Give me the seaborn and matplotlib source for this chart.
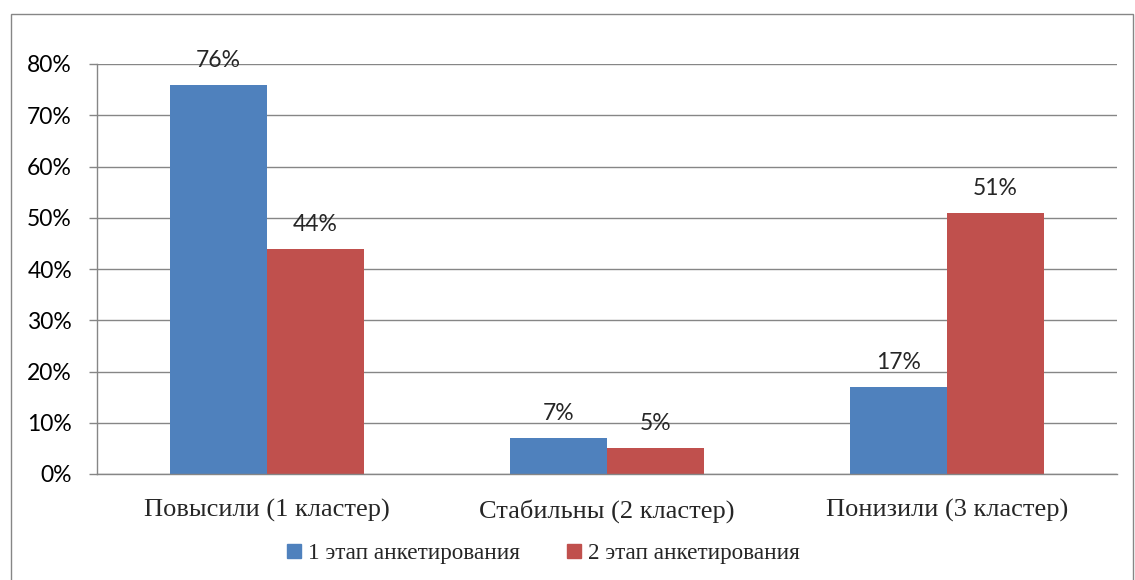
import matplotlib
matplotlib.use("Agg")
import matplotlib.pyplot as plt
import seaborn as sns
import pandas as pd
from matplotlib.patches import Rectangle
from matplotlib.lines import Line2D

categories = ["Повысили (1 кластер)", "Стабильны (2 кластер)", "Понизили (3 кластер)"]
series_names = ["1 этап анкетирования", "2 этап анкетирования"]
stage1 = [76, 7, 17]
stage2 = [44, 5, 51]
yticks = [0, 10, 20, 30, 40, 50, 60, 70, 80]

df = pd.DataFrame({
    "cat": categories * 2,
    "series": [series_names[0]] * 3 + [series_names[1]] * 3,
    "val": stage1 + stage2,
})

sns.set_theme(style="white")
plt.rcParams["font.family"] = ["Lato", "DejaVu Sans"]

fig = plt.figure(figsize=(11.35, 5.8), dpi=100)
ax = fig.add_axes([97/1135, 1-474/580, 1020/1135, 410/580])

colors = ["#4F81BD", "#C0504D"]
sns.barplot(data=df, x="cat", y="val", hue="series", order=categories,
            hue_order=series_names, palette=colors, width=0.57, ax=ax,
            saturation=1, legend=False, edgecolor="none", linewidth=0)

ax.set_xlim(-0.5, 2.5)
ax.set_ylim(0, 80)
ax.set_yticks(yticks)
ax.set_yticklabels([f"{v}%" for v in yticks], fontsize=16.5, color="#000000", family=["Lato", "DejaVu Sans"])
ax.yaxis.grid(True, color="#868686", linewidth=1)
ax.set_axisbelow(True)
ax.set_xlabel("")
ax.set_ylabel("")
ax.set_xticks([0, 1, 2])
ax.set_xticklabels(categories, fontsize=19, family=["Liberation Serif"])
ax.tick_params(axis="x", which="major", length=0, pad=18)
ax.set_xticks([-0.5, 0.5, 1.5, 2.5], minor=True)
ax.tick_params(axis="x", which="minor", length=6, color="#868686", width=1, direction="out")
ax.tick_params(axis="y", which="major", length=6, color="#868686", width=1, direction="out", pad=12, left=True)
for s in ["top", "right"]:
    ax.spines[s].set_visible(False)
for s in ["left", "bottom"]:
    ax.spines[s].set_color("#868686")
    ax.spines[s].set_linewidth(1)

for cont in ax.containers:
    ax.bar_label(cont, labels=[f"{v:.0f}%" for v in cont.datavalues], padding=10,
                 fontsize=16.5, family=["Lato", "DejaVu Sans"])

handles = [Line2D([], [], marker="s", linestyle="none", markersize=9.4,
                  markerfacecolor=c, markeredgecolor=c) for c in colors]
fig.legend(handles, series_names, loc="center", bbox_to_anchor=(543/1135, 1-553/580),
           ncol=2, frameon=False, prop={"family": "Liberation Serif", "size": 16.7},
           handlelength=0.7, handletextpad=0.25, columnspacing=2.0)

fig.add_artist(Rectangle((11/1135, -0.05), (1133-11)/1135, 1-14/580+0.05,
                         transform=fig.transFigure, fill=False, edgecolor="#868686", linewidth=1))

fig.savefig("out.png", dpi=100)
